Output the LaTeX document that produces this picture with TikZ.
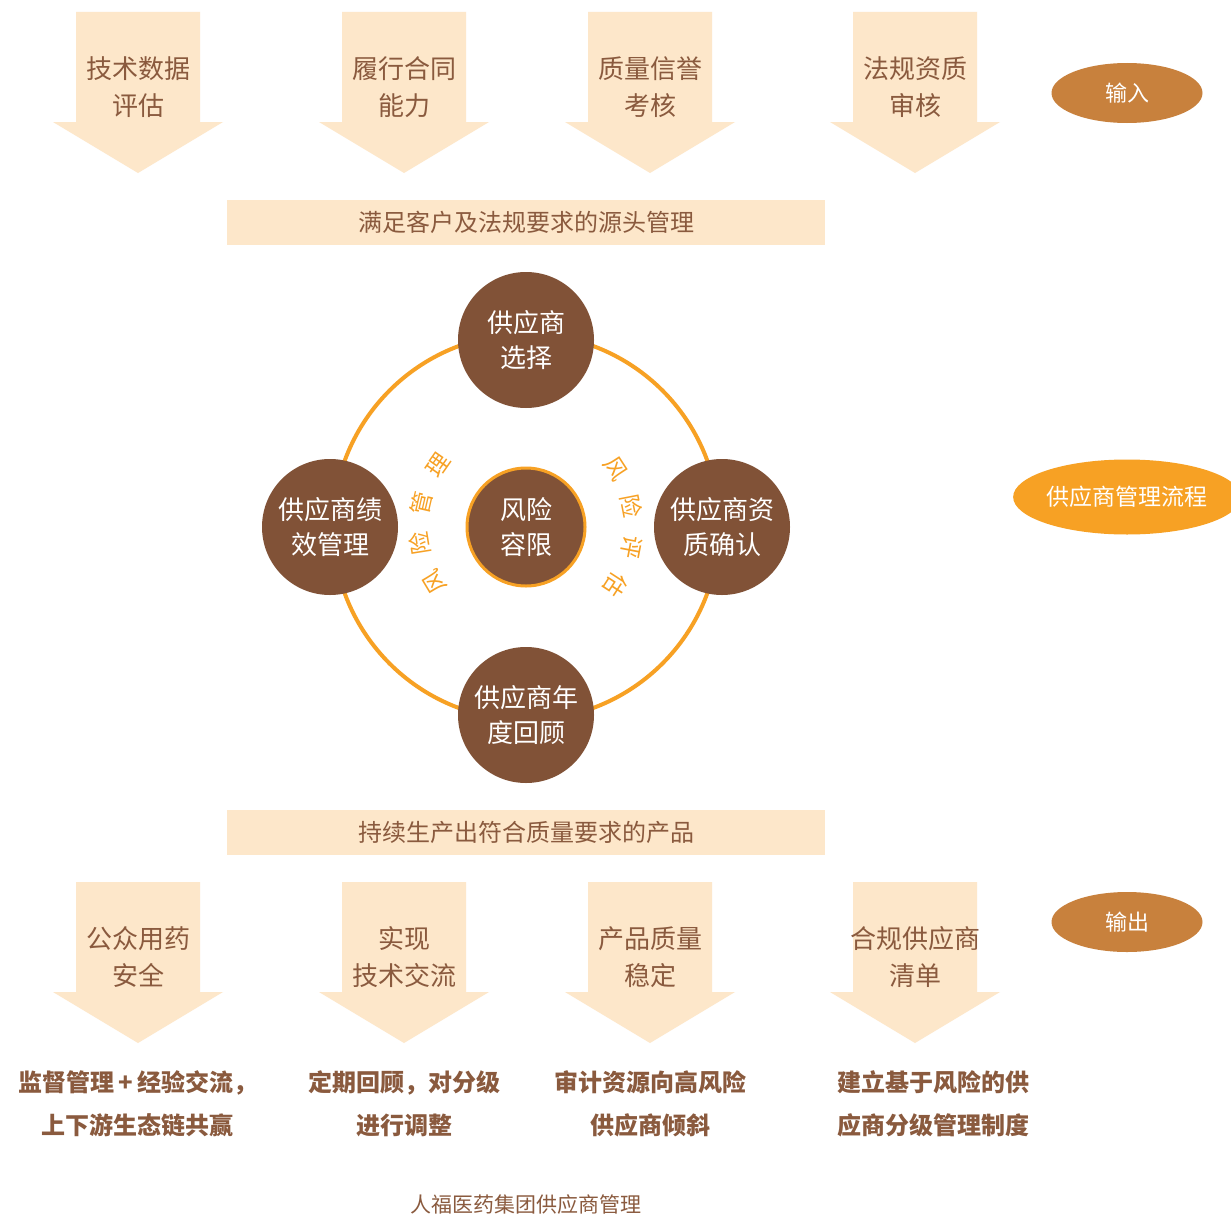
\documentclass[tikz,border=0pt]{standalone}
\usepackage{fontspec}
\setmainfont{Noto Sans CJK SC}
\usetikzlibrary{shapes.geometric,calc}
\definecolor{peach}{HTML}{FDE7CA}
\definecolor{nodebrown}{HTML}{815237}
\definecolor{txtbrown}{HTML}{8A5A3E}
\definecolor{ringorange}{HTML}{F7A124}
\definecolor{tagbrown}{HTML}{C8813D}
\newcommand{\fsz}[2]{\fontsize{#1}{#2}\selectfont}
% down arrow: centre x, top y
\newcommand{\dnarrow}[2]{%
  \fill[peach] (#1-62,#2) -- (#1+62,#2) -- (#1+62,#2+110) -- (#1+85,#2+110)
    -- (#1,#2+161) -- (#1-85,#2+110) -- (#1-62,#2+110) -- cycle;}
\tikzset{
    arrtxtsty/.style={text=txtbrown,align=center,font=\fsz{26}{37}},
    bannersty/.style={fill=peach,rectangle,minimum width=598pt,minimum height=45pt,
                      text=txtbrown,font=\fsz{24}{28}},
    stepnodesty/.style={circle,fill=nodebrown,minimum size=136pt,inner sep=0pt,
                        text=white,align=center,font=\fsz{26}{35}},
    centresty/.style={circle,fill=nodebrown,draw=ringorange,line width=3pt,
                      minimum size=118pt,inner sep=0pt,text=white,align=center,
                      font=\fsz{26}{35}},
    arctxtsty/.style={text=ringorange,font=\fsz{23}{23},inner sep=0pt},
    tagsty/.style={ellipse,inner sep=0pt,text=white,font=\fsz{22}{22}},
    outtxtsty/.style={text=txtbrown,align=center,font=\bfseries\fsz{24}{43}},
}
\begin{document}
\begin{tikzpicture}[x=1pt,y=-1pt]
\useasboundingbox[fill=white] (0,0) rectangle (1231,1215);

% input arrows
\foreach \cx in {138,404,650,915} {\dnarrow{\cx}{12}}
\node[arrtxtsty] (in1) at (138,87) {技术数据\\评估};
\node[arrtxtsty] (in2) at (404,87) {履行合同\\能力};
\node[arrtxtsty] (in3) at (650,87) {质量信誉\\考核};
\node[arrtxtsty] (in4) at (915,87) {法规资质\\审核};

\node[bannersty] (src) at (526,222.5) {满足客户及法规要求的源头管理};

% process ring
\coordinate (ctr) at (526,527);
\draw[ringorange,line width=4pt] (ctr) circle (193pt);
\node[stepnodesty] (sel) at (526,340) {供应商\\选择};
\node[stepnodesty] (perf) at (330,527) {供应商绩\\效管理};
\node[stepnodesty] (qual) at (722,527) {供应商资\\质确认};
\node[stepnodesty] (rev) at (526,715) {供应商年\\度回顾};
\node[centresty] (risk) at (ctr) {风险\\容限};

\foreach \a/\ch [count=\i] in {211/风,189/险,167/管,145/理}
  \node[arctxtsty,rotate=\a-90] (lm\i) at ($(ctr)+(\a:107pt)$) {\ch};
\foreach \a/\ch [count=\i] in {33/风,11/险,-11/评,-33/估}
  \node[arctxtsty,rotate=\a-90] (re\i) at ($(ctr)+(\a:107pt)$) {\ch};

\node[bannersty] (prod) at (526,832.5) {持续生产出符合质量要求的产品};

% output arrows
\foreach \cx in {138,404,650,915} {\dnarrow{\cx}{882}}
\node[arrtxtsty] (out1) at (138,957) {公众用药\\安全};
\node[arrtxtsty] (out2) at (404,957) {实现\\技术交流};
\node[arrtxtsty] (out3) at (650,957) {产品质量\\稳定};
\node[arrtxtsty] (out4) at (915,957) {合规供应商\\清单};

\node[outtxtsty] (res1) at (138,1104) {监督管理\,+\,经验交流，\\上下游生态链共赢};
\node[outtxtsty] (res2) at (404,1104) {定期回顾，对分级\\进行调整};
\node[outtxtsty] (res3) at (650,1104) {审计资源向高风险\\供应商倾斜};
\node[outtxtsty] (res4) at (933,1104) {建立基于风险的供\\应商分级管理制度};

% side tags
\node[tagsty,fill=tagbrown,minimum width=151pt,minimum height=60pt] (tin) at (1127,93) {输入};
\node[tagsty,fill=ringorange,minimum width=226pt,minimum height=75pt,font=\fsz{23}{23}] (tproc) at (1127,497) {供应商管理流程};
\node[tagsty,fill=tagbrown,minimum width=151pt,minimum height=60pt] (tout) at (1127,922) {输出};

\node[text=txtbrown,font=\fsz{21}{21}] (cap) at (526,1204) {人福医药集团供应商管理};
\end{tikzpicture}
\end{document}
